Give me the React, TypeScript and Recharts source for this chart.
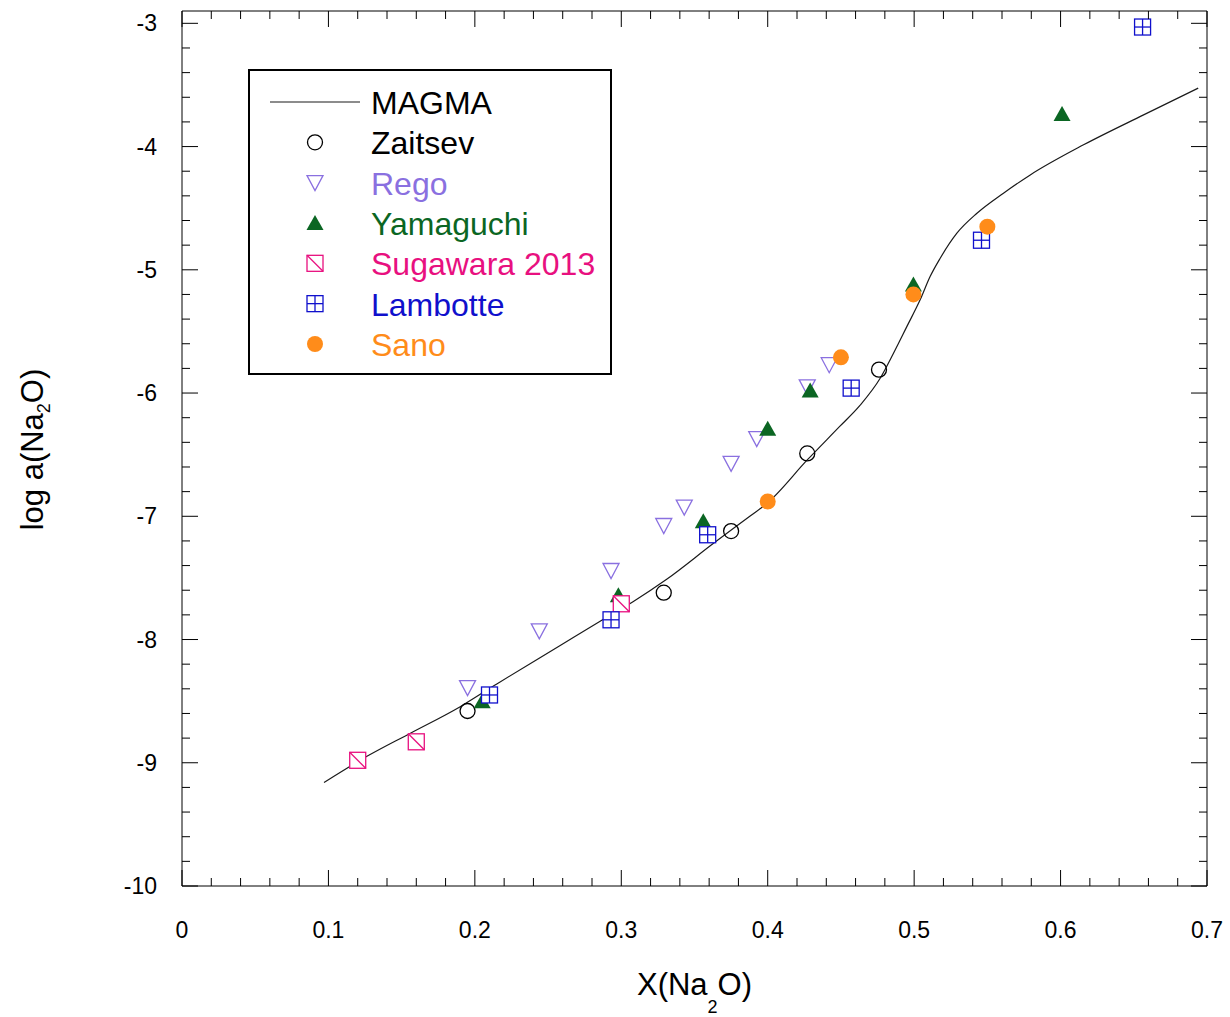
import { ScatterChart, Scatter, XAxis, YAxis, Label } from 'recharts'

type Pt = [number, number]

// MAGMA model curve
const magmaCurve: Pt[] = [
  [0.097, -9.16], [0.126, -8.95], [0.156, -8.76], [0.19, -8.545], [0.215, -8.36],
  [0.258, -8.05], [0.285, -7.855], [0.308, -7.693], [0.331, -7.511], [0.363, -7.219],
  [0.388, -6.998], [0.4, -6.89], [0.427, -6.543], [0.449, -6.273], [0.463, -6.1],
  [0.4768, -5.88], [0.4859, -5.677], [0.495, -5.461], [0.5041, -5.244], [0.5109, -5.055],
  [0.5178, -4.906], [0.5292, -4.703], [0.5429, -4.541], [0.561, -4.378], [0.5793, -4.23],
  [0.6157, -3.986], [0.6567, -3.743], [0.694, -3.526],
]

const zaitsev: Pt[] = [[0.195, -8.58], [0.329, -7.62], [0.375, -7.12], [0.427, -6.49], [0.476, -5.81]]
const rego: Pt[] = [
  [0.195, -8.39], [0.244, -7.93], [0.293, -7.44], [0.329, -7.075], [0.343, -6.925],
  [0.375, -6.57], [0.3925, -6.37], [0.427, -5.95], [0.442, -5.77],
]
const yamaguchi: Pt[] = [
  [0.205, -8.5], [0.298, -7.64], [0.356, -7.04], [0.4, -6.29], [0.429, -5.98], [0.4995, -5.12], [0.601, -3.735],
]
const sugawara: Pt[] = [[0.12, -8.98], [0.16, -8.83], [0.3, -7.71]]
const lambotte: Pt[] = [[0.21, -8.45], [0.293, -7.84], [0.359, -7.15], [0.457, -5.96], [0.546, -4.76], [0.656, -3.03]]
const sano: Pt[] = [[0.4, -6.88], [0.45, -5.71], [0.4995, -5.2], [0.55, -4.65]]

const xMajorTicks = [0, 0.1, 0.2, 0.3, 0.4, 0.5, 0.6, 0.7]
const yMajorTicks = [-10, -9, -8, -7, -6, -5, -4, -3]

const FONT = '"Liberation Sans", Arial, sans-serif'

const toObj = (pts: Pt[]) => pts.map(([x, y]) => ({ x, y }))

// major ticks plus 4 minor ticks in between
const withMinor = (majors: number[]) => {
  const out: number[] = []
  majors.forEach((m, i) => {
    out.push(m)
    if (i < majors.length - 1) {
      const step = (majors[i + 1] - m) / 5
      for (let j = 1; j < 5; j++) out.push(m + step * j)
    }
  })
  return out
}
const xTicks = withMinor(xMajorTicks)
const yTicks = withMinor(yMajorTicks)

const isMajor = (v: number, majors: number[]) => majors.some((m) => Math.abs(m - v) < 1e-9)

const colors = {
  zaitsev: '#000000',
  rego: '#8a70e0',
  yamaguchi: '#0b6623',
  sugawara: '#e8107f',
  lambotte: '#1010cc',
  sano: '#ff8c1a',
}

// marker shapes
const OpenCircle = ({ cx, cy }: any) => (
  <circle cx={cx} cy={cy} r={7.5} fill="none" stroke={colors.zaitsev} strokeWidth={1.3} />
)
const DownTriangle = ({ cx, cy }: any) => (
  <polygon
    points={`${cx - 8},${cy - 7} ${cx + 8},${cy - 7} ${cx},${cy + 8}`}
    fill="none"
    stroke={colors.rego}
    strokeWidth={1.3}
  />
)
const UpTriangle = ({ cx, cy }: any) => (
  <polygon points={`${cx},${cy - 8} ${cx - 8.5},${cy + 7} ${cx + 8.5},${cy + 7}`} fill={colors.yamaguchi} />
)
const SlashSquare = ({ cx, cy }: any) => (
  <g stroke={colors.sugawara} strokeWidth={1.3}>
    <rect x={cx - 8} y={cy - 8} width={16} height={16} fill="#fff" />
    <line x1={cx - 8} y1={cy - 8} x2={cx + 8} y2={cy + 8} />
  </g>
)
const CrossSquare = ({ cx, cy }: any) => (
  <g stroke={colors.lambotte} strokeWidth={1.3}>
    <rect x={cx - 8} y={cy - 8} width={16} height={16} fill="#fff" />
    <line x1={cx} y1={cy - 8} x2={cx} y2={cy + 8} />
    <line x1={cx - 8} y1={cy} x2={cx + 8} y2={cy} />
  </g>
)
const FilledCircle = ({ cx, cy }: any) => <circle cx={cx} cy={cy} r={8} fill={colors.sano} />
const NoShape = () => <g />

const legendNames = ['Zaitsev', 'Rego', 'Yamaguchi', 'Sugawara 2013', 'Lambotte', 'Sano']
const legendColors = [colors.zaitsev, colors.rego, colors.yamaguchi, colors.sugawara, colors.lambotte, colors.sano]
const legendShapes = [OpenCircle, DownTriangle, UpTriangle, SlashSquare, CrossSquare, FilledCircle]

const xTick = (side: 'top' | 'bottom') => (props: any) => {
  const { x, y, payload } = props
  const major = isMajor(payload.value, xMajorTicks)
  const len = major ? 16 : 8
  const dir = side === 'bottom' ? -1 : 1
  return (
    <g>
      <line x1={x} x2={x} y1={y} y2={y + dir * len} stroke="#000" strokeWidth={1} />
      {side === 'bottom' && major && (
        <text x={x} y={y + 52} textAnchor="middle" fontSize={23} fontFamily={FONT} fill="#000">
          {String(payload.value)}
        </text>
      )}
    </g>
  )
}

const yTick = (side: 'left' | 'right') => (props: any) => {
  const { x, y, payload } = props
  const major = isMajor(payload.value, yMajorTicks)
  const len = major ? 16 : 8
  const dir = side === 'left' ? 1 : -1
  return (
    <g>
      <line x1={x} x2={x + dir * len} y1={y} y2={y} stroke="#000" strokeWidth={1} />
      {side === 'left' && major && (
        <text x={x - 25} y={y + 8} textAnchor="end" fontSize={23} fontFamily={FONT} fill="#000">
          {String(payload.value)}
        </text>
      )}
    </g>
  )
}

const XTitle = ({ viewBox }: any) => {
  const cx = viewBox.x + viewBox.width / 2
  const by = viewBox.y + 109
  return (
    <text x={cx} y={by} textAnchor="middle" fontSize={31} fontFamily={FONT} fill="#000">
      X(Na
      <tspan fontSize={18} dy={18}>2</tspan>
      <tspan dy={-18}>O)</tspan>
    </text>
  )
}

const YTitle = ({ viewBox }: any) => {
  const cy = viewBox.y + viewBox.height / 2 + 1
  const bx = 43
  return (
    <text
      x={bx}
      y={cy}
      transform={`rotate(-90 ${bx} ${cy})`}
      textAnchor="middle"
      fontSize={31}
      fontFamily={FONT}
      fill="#000"
    >
      log a(Na
      <tspan fontSize={18} dy={7}>2</tspan>
      <tspan dy={-7}>O)</tspan>
    </text>
  )
}

function LegendBox() {
  const rowY = (i: number) => 33 + 40.33 * i
  return (
    <svg
      width={364}
      height={306}
      style={{ position: 'absolute', left: 248, top: 69 }}
      fontFamily={FONT}
    >
      <rect x={1} y={1} width={362} height={304} fill="#fff" stroke="#000" strokeWidth={2} />
      <line x1={22} x2={112} y1={rowY(0)} y2={rowY(0)} stroke="#1a1a1a" strokeWidth={1.2} />
      <text x={123} y={rowY(0) + 12} fontSize={32} fill="#000">
        MAGMA
      </text>
      {legendNames.map((name, i) => {
        const Shape = legendShapes[i]
        return (
          <g key={name}>
            <Shape cx={67} cy={rowY(i + 1)} />
            <text x={123} y={rowY(i + 1) + 12} fontSize={32} fill={legendColors[i]}>
              {name}
            </text>
          </g>
        )
      })}
    </svg>
  )
}

export default function App() {
  return (
    <div style={{ position: 'absolute', left: 0, top: 0, width: 1230, height: 1017, background: '#fff', fontFamily: FONT }}>
      <ScatterChart width={1230} height={1017} margin={{ top: 10, right: 22, bottom: 0, left: 0 }}>
        <XAxis
          xAxisId="x"
          type="number"
          dataKey="x"
          domain={[0, 0.7]}
          ticks={xTicks}
          interval={0}
          tickSize={0}
          tickMargin={0}
          tickLine={false}
          axisLine={{ stroke: '#000', strokeWidth: 1 }}
          height={131}
          tick={xTick('bottom')}
          allowDataOverflow
        >
          <Label content={XTitle} />
        </XAxis>
        <XAxis
          xAxisId="xt"
          orientation="top"
          type="number"
          dataKey="x"
          domain={[0, 0.7]}
          ticks={xTicks}
          interval={0}
          tickSize={0}
          tickMargin={0}
          tickLine={false}
          axisLine={{ stroke: '#000', strokeWidth: 1 }}
          height={1}
          tick={xTick('top')}
          allowDataOverflow
        />
        <YAxis
          yAxisId="y"
          type="number"
          dataKey="y"
          domain={[-10, -2.9]}
          ticks={yTicks}
          interval={0}
          tickSize={0}
          tickMargin={0}
          tickLine={false}
          axisLine={{ stroke: '#000', strokeWidth: 1 }}
          width={182}
          tick={yTick('left')}
          allowDataOverflow
        >
          <Label content={YTitle} />
        </YAxis>
        <YAxis
          yAxisId="yr"
          orientation="right"
          type="number"
          dataKey="y"
          domain={[-10, -2.9]}
          ticks={yTicks}
          interval={0}
          tickSize={0}
          tickMargin={0}
          tickLine={false}
          axisLine={{ stroke: '#000', strokeWidth: 1 }}
          width={1}
          tick={yTick('right')}
          allowDataOverflow
        />
        <Scatter
          name="MAGMA"
          xAxisId="x"
          yAxisId="y"
          data={toObj(magmaCurve)}
          line={{ stroke: '#1a1a1a', strokeWidth: 1.2 }}
          lineJointType="monotoneX"
          shape={NoShape}
          isAnimationActive={false}
        />
        <Scatter name="Zaitsev" xAxisId="x" yAxisId="y" data={toObj(zaitsev)} shape={OpenCircle} isAnimationActive={false} />
        <Scatter name="Rego" xAxisId="x" yAxisId="y" data={toObj(rego)} shape={DownTriangle} isAnimationActive={false} />
        <Scatter name="Yamaguchi" xAxisId="x" yAxisId="y" data={toObj(yamaguchi)} shape={UpTriangle} isAnimationActive={false} />
        <Scatter name="Sugawara 2013" xAxisId="x" yAxisId="y" data={toObj(sugawara)} shape={SlashSquare} isAnimationActive={false} />
        <Scatter name="Lambotte" xAxisId="x" yAxisId="y" data={toObj(lambotte)} shape={CrossSquare} isAnimationActive={false} />
        <Scatter name="Sano" xAxisId="x" yAxisId="y" data={toObj(sano)} shape={FilledCircle} isAnimationActive={false} />
      </ScatterChart>
      <LegendBox />
    </div>
  )
}
